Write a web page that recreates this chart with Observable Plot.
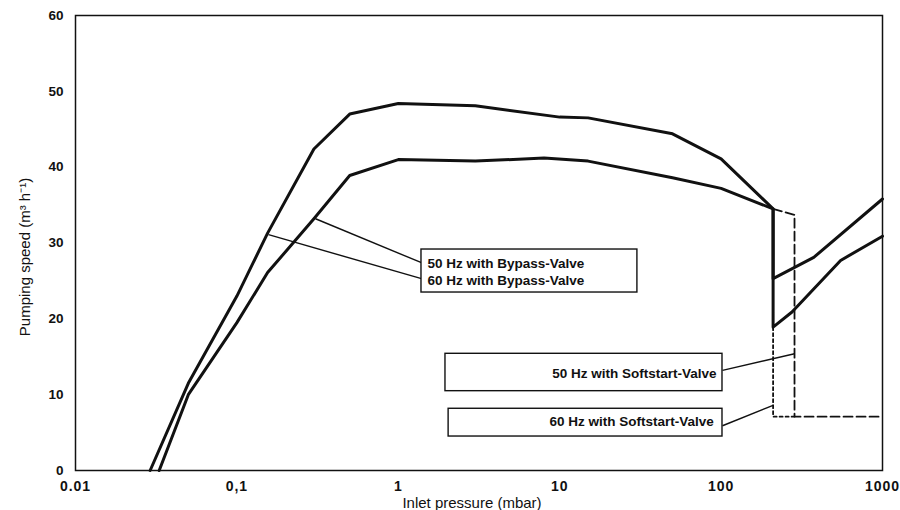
<!DOCTYPE html>
<html>
<head>
<meta charset="utf-8">
<script src="https://cdn.jsdelivr.net/npm/d3@7"></script>
<script src="https://cdn.jsdelivr.net/npm/@observablehq/plot@0.6"></script>
<style>
  body { margin: 0; background: #fff; }
  #chart svg { display: block; }
  #chart g[aria-label="x-axis tick label"] { letter-spacing: 1px; font-weight: bold; }
  #chart g[aria-label="y-axis tick label"] { font-weight: bold; }
</style>
</head>
<body>
<div id="chart"></div>
<script>
// ---- data (pressure in mbar, pumping speed in m3/h) ----
const bypass60Pressure = [0.029, 0.05, 0.1, 0.155, 0.3, 0.5, 1, 3, 10, 15, 50, 100, 210, 210, 375, 1000];
const bypass60Speed    = [0, 11.5, 23, 31.3, 42.4, 47.0, 48.4, 48.1, 46.6, 46.5, 44.4, 41.1, 34.5, 25.3, 28.1, 35.8];

const bypass50Pressure = [0.033, 0.05, 0.1, 0.155, 0.3, 0.5, 1, 3, 8, 15, 50, 100, 210, 210, 275, 550, 1000];
const bypass50Speed    = [0, 10, 19.5, 26.1, 33.2, 38.9, 41.0, 40.8, 41.2, 40.8, 38.6, 37.2, 34.5, 18.9, 20.9, 27.7, 30.9];

const softstart50Pressure = [210, 285, 285, 1000];
const softstart50Speed    = [34.5, 33.7, 7.1, 7.1];

const softstart60Pressure = [210, 210, 285];
const softstart60Speed    = [18.9, 7.1, 7.1];

const xTicks = [0.01, 0.1, 1, 10, 100, 1000];
const xTickLabels = ["0.01", "0,1", "1", "10", "100", "1000"];
const yTicks = [0, 10, 20, 30, 40, 50, 60];

const xTitle = "Inlet pressure (mbar)";
const yTitle = "Pumping speed (m\u00B3 h\u207B\u00B9)";

const seriesNames = ["50 Hz with Bypass-Valve", "60 Hz with Bypass-Valve", "50 Hz with Softstart-Valve", "60 Hz with Softstart-Valve"];

// ---- annotation anchors (data coordinates) ----
const bypassBox = {x1: 1.392, x2: 30.3, y1: 23.47, y2: 29.14};
const bypassLabelX = 1.517;
const bypassLabelY = [27.3, 25.06];
const bypassLeaders = [
  {x1: 0.307, y1: 33.2, x2: 1.392, y2: 27.4},
  {x1: 0.157, y1: 31.1, x2: 1.392, y2: 25.3}
];
const softBoxes = [
  {x1: 1.96, x2: 102, y1: 10.46, y2: 15.39},
  {x1: 2.05, x2: 102, y1: 4.48, y2: 8.14}
];
const softLabelX = [93.6, 90.1];
const softLabelY = [12.83, 6.5];
const softLeaders = [
  {x1: 102, y1: 13.2, x2: 285, y2: 15.4},
  {x1: 102, y1: 5.9, x2: 210, y2: 8.6}
];

const toPts = (ps, ss) => ps.map((p, i) => ({p, s: ss[i]}));

const ink = "#111";

const chart = Plot.plot({
  width: 900,
  height: 510,
  marginLeft: 75,
  marginRight: 18,
  marginTop: 15,
  marginBottom: 40,
  style: {fontFamily: "'Liberation Sans', Arial, sans-serif", fontSize: "13px", color: ink, background: "#fff"},
  x: {type: "log", domain: [0.01, 1000]},
  y: {domain: [0, 60]},
  marks: [
    Plot.axisX({ticks: xTicks, tickFormat: d => xTickLabels[xTicks.indexOf(d)], tickSize: 0, tickPadding: 11, label: null, fontSize: 14}),
    Plot.axisY({ticks: yTicks, tickSize: 0, tickPadding: 12, label: null, fontSize: 13.5}),
    Plot.text([xTitle], {frameAnchor: "bottom", lineAnchor: "middle", textAnchor: "middle", dy: 33, dx: -7, fontSize: 15, fill: ink}),
    Plot.text([yTitle], {frameAnchor: "left", rotate: -90, textAnchor: "middle", lineAnchor: "middle", dx: -50, dy: 14, fontSize: 15, fill: ink}),
    // curves
    Plot.line(toPts(bypass60Pressure, bypass60Speed), {x: "p", y: "s", stroke: ink, strokeWidth: 3, strokeLinejoin: "round"}),
    Plot.line(toPts(bypass50Pressure, bypass50Speed), {x: "p", y: "s", stroke: ink, strokeWidth: 3, strokeLinejoin: "round"}),
    Plot.line(toPts(softstart50Pressure, softstart50Speed), {x: "p", y: "s", stroke: ink, strokeWidth: 1.8, strokeDasharray: "9,4"}),
    Plot.line(toPts(softstart60Pressure, softstart60Speed), {x: "p", y: "s", stroke: ink, strokeWidth: 1.8, strokeDasharray: "3,3"}),
    // leaders
    Plot.link(bypassLeaders, {x1: "x1", y1: "y1", x2: "x2", y2: "y2", stroke: ink, strokeWidth: 1.4}),
    Plot.link(softLeaders, {x1: "x1", y1: "y1", x2: "x2", y2: "y2", stroke: ink, strokeWidth: 1.4}),
    // boxes
    Plot.rect([bypassBox], {x1: "x1", x2: "x2", y1: "y1", y2: "y2", fill: "#fff", stroke: ink, strokeWidth: 1.4}),
    Plot.rect(softBoxes, {x1: "x1", x2: "x2", y1: "y1", y2: "y2", fill: "#fff", stroke: ink, strokeWidth: 1.4}),
    // labels
    Plot.text([0, 1], {x: () => bypassLabelX, y: i => bypassLabelY[i], text: i => seriesNames[i], textAnchor: "start", fontSize: 13.5, fontWeight: "bold", fill: ink}),
    Plot.text([0, 1], {x: i => softLabelX[i], y: i => softLabelY[i], text: i => seriesNames[i + 2], textAnchor: "end", fontSize: 13.5, fontWeight: "bold", fill: ink}),
    Plot.frame({stroke: ink, strokeWidth: 1.5})
  ]
});

document.getElementById("chart").appendChild(chart);
</script>
</body>
</html>
